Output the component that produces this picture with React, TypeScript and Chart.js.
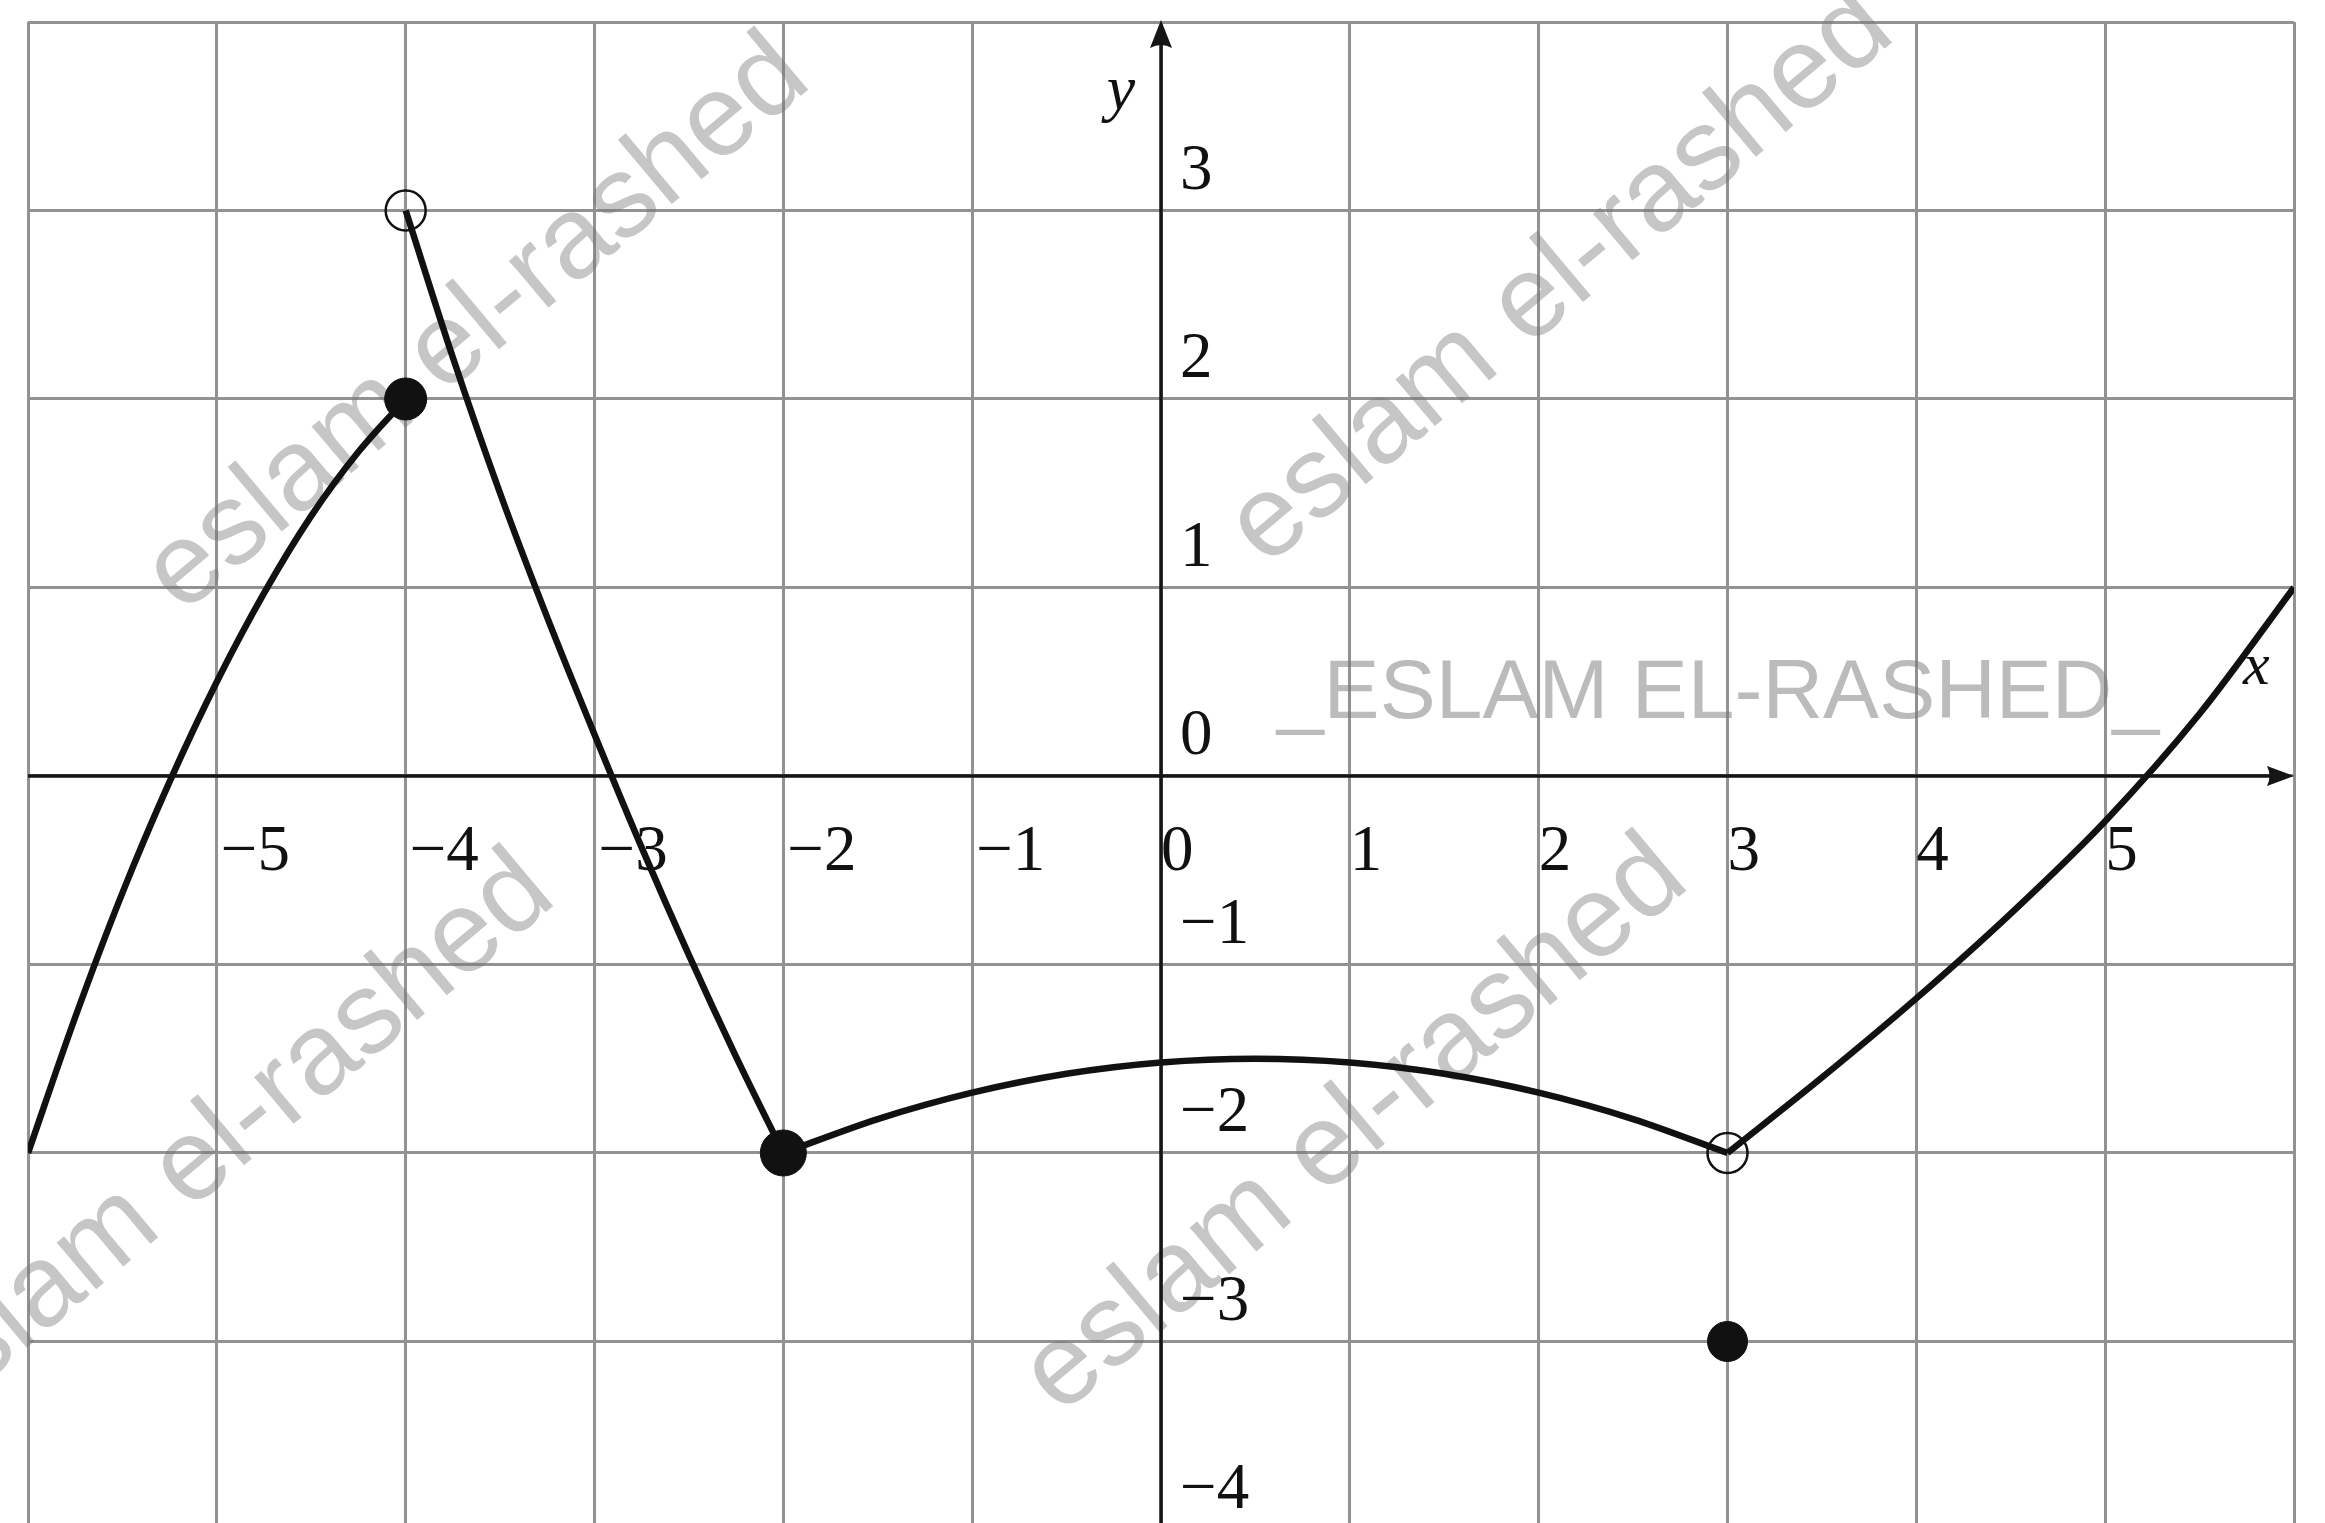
import React, { useEffect, useRef } from 'react';
import { Chart, registerables } from 'chart.js';

Chart.register(...registerables);

// Piecewise function: each branch is listed as sampled (x, y) readings.
const branchAx = [-6, -5.75, -5.5, -5.25, -5, -4.75, -4.5, -4.25, -4];
const branchAy = [-2, -1.28, -0.62, -0.03, 0.5, 0.97, 1.38, 1.72, 2];

const branchBx = [-4, -3.75, -3.5, -3.25, -3, -2.75, -2.5, -2.25, -2];
const branchBy = [3, 2.22, 1.5, 0.84, 0.22, -0.38, -0.95, -1.49, -2];

const branchCx = [-2, -1.5, -1, -0.5, 0, 0.5, 1, 1.5, 2, 2.5, 3];
const branchCy = [-2, -1.82, -1.68, -1.58, -1.52, -1.5, -1.52, -1.58, -1.68, -1.82, -2];

const branchDx = [3, 3.5, 4, 4.5, 5, 5.5, 6];
const branchDy = [-2, -1.6, -1.18, -0.73, -0.24, 0.33, 1];

// Included endpoints (filled dots) and excluded endpoints (open circles)
const closedX = [-4, -2, 3];
const closedY = [2, -2, -3];
const openX = [-4, 3];
const openY = [3, -2];

// Axis tick labels and grid positions
const xTickValues = [-5, -4, -3, -2, -1, 0, 1, 2, 3, 4, 5];
const yTickValues = [-4, -3, -2, -1, 0, 1, 2, 3];
const gridX = [-6, -5, -4, -3, -2, -1, 0, 1, 2, 3, 4, 5, 6];
const gridY = [-3, -2, -1, 0, 1, 2, 3, 4];

const W = 2325;
const H = 1523;

const fmt = (v: number) => (v < 0 ? '\u2212' + Math.abs(v) : String(v));
const pts = (xs: number[], ys: number[]) => xs.map((x, i) => ({ x, y: ys[i] }));

// Watermark stamps, positioned in axis units
const stamps = [
  { text: 'eslam el-rashed', x: -3.62, y: 2.39, angle: -40 },
  { text: 'eslam el-rashed', x: 2.12, y: 2.64, angle: -40 },
  { text: 'eslam el-rashed', x: -4.97, y: -1.94, angle: -40 },
  { text: 'eslam el-rashed', x: 1.03, y: -1.86, angle: -40 },
];

const decor = {
  id: 'decor',
  beforeDraw(chart: any) {
    const { ctx } = chart;
    ctx.save();
    ctx.fillStyle = '#ffffff';
    ctx.fillRect(0, 0, chart.width, chart.height);
    ctx.restore();
  },
  beforeDatasetsDraw(chart: any) {
    const { ctx } = chart;
    const xs = chart.scales.x;
    const ys = chart.scales.y;
    const ox = xs.getPixelForValue(0);
    const oy = ys.getPixelForValue(0);

    // watermarks
    ctx.save();
    ctx.fillStyle = 'rgba(120,120,120,0.42)';
    ctx.font = '116px "Liberation Sans", Arial, sans-serif';
    ctx.textAlign = 'center';
    ctx.textBaseline = 'middle';
    for (const s of stamps) {
      ctx.save();
      ctx.translate(xs.getPixelForValue(s.x), ys.getPixelForValue(s.y));
      ctx.rotate((s.angle * Math.PI) / 180);
      ctx.fillText(s.text, 0, 0);
      ctx.restore();
    }
    ctx.font = '84px "Liberation Sans", Arial, sans-serif';
    ctx.fillStyle = 'rgba(120,120,120,0.5)';
    ctx.fillText('_ESLAM EL-RASHED_', xs.getPixelForValue(2.95), ys.getPixelForValue(0.43));
    ctx.restore();

    // axes with arrowheads
    ctx.save();
    ctx.strokeStyle = '#151515';
    ctx.fillStyle = '#151515';
    ctx.lineWidth = 3.5;
    const xEnd = xs.getPixelForValue(6);
    const yTop = ys.getPixelForValue(4);
    ctx.beginPath();
    ctx.moveTo(xs.getPixelForValue(-6), oy);
    ctx.lineTo(xEnd - 10, oy);
    ctx.moveTo(ox, chart.height);
    ctx.lineTo(ox, yTop + 10);
    ctx.stroke();
    ctx.beginPath();
    ctx.moveTo(xEnd, oy);
    ctx.lineTo(xEnd - 27, oy - 10);
    ctx.quadraticCurveTo(xEnd - 22, oy, xEnd - 27, oy + 10);
    ctx.closePath();
    ctx.fill();
    ctx.beginPath();
    ctx.moveTo(ox, yTop - 2);
    ctx.lineTo(ox - 11, yTop + 26);
    ctx.quadraticCurveTo(ox, yTop + 20, ox + 11, yTop + 26);
    ctx.closePath();
    ctx.fill();
    ctx.restore();

    // tick labels
    ctx.save();
    ctx.fillStyle = '#111';
    ctx.font = '65px "Liberation Serif", "Times New Roman", serif';
    ctx.textBaseline = 'middle';
    ctx.textAlign = 'left';
    for (const v of xTickValues) {
      const px = xs.getPixelForValue(v);
      ctx.fillText(fmt(v), px + (v < 0 ? 4 : 0), oy + 77);
    }
    for (const v of yTickValues) {
      const py = ys.getPixelForValue(v);
      ctx.fillText(fmt(v), ox + 19, py - 39);
    }
    // axis names
    ctx.font = 'italic 60px "Liberation Serif", "Times New Roman", serif';
    ctx.textAlign = 'center';
    ctx.fillText('x', xs.getPixelForValue(5.8), ys.getPixelForValue(0.57));
    ctx.font = 'italic 64px "Liberation Serif", "Times New Roman", serif';
    ctx.fillText('y', ox - 40, ys.getPixelForValue(3.63));
    ctx.restore();
  },
};

export default function App() {
  const ref = useRef<HTMLCanvasElement>(null);

  useEffect(() => {
    const canvas = ref.current;
    if (!canvas) return;
    const curve = (xs: number[], ys: number[]) => ({
      data: pts(xs, ys),
      showLine: true,
      borderColor: '#111',
      borderWidth: 6.5,
      pointRadius: 0,
      cubicInterpolationMode: 'monotone' as const,
      fill: false,
      order: 2,
    });
    const chart = new Chart(canvas, {
      type: 'line',
      data: {
        datasets: [
          {
            data: pts(closedX, closedY),
            showLine: false,
            pointRadius: [21, 23, 20],
            pointBackgroundColor: '#111',
            pointBorderColor: '#111',
            pointBorderWidth: 1,
            order: 0,
          } as any,
          {
            data: pts(openX, openY),
            showLine: false,
            pointRadius: 20,
            pointBackgroundColor: 'rgba(0,0,0,0)',
            pointBorderColor: '#111',
            pointBorderWidth: 2.5,
            order: 1,
          } as any,
          curve(branchAx, branchAy),
          curve(branchBx, branchBy),
          curve(branchCx, branchCy),
          curve(branchDx, branchDy),
        ],
      },
      options: {
        responsive: false,
        devicePixelRatio: 1,
        animation: false,
        events: [],
        layout: { padding: { left: 28, top: 22, right: 31, bottom: 0 }, autoPadding: false },
        plugins: { legend: { display: false }, tooltip: { enabled: false } },
        scales: {
          x: {
            type: 'linear',
            min: -6,
            max: 6,
            afterBuildTicks: (s: any) => {
              s.ticks = gridX.map((value) => ({ value }));
            },
            ticks: { display: false },
            grid: { color: '#929292', lineWidth: 3, drawTicks: false },
            border: { display: false },
          },
          y: {
            type: 'linear',
            min: -3.963,
            max: 4,
            afterBuildTicks: (s: any) => {
              s.ticks = gridY.map((value) => ({ value }));
            },
            ticks: { display: false },
            grid: { color: '#929292', lineWidth: 3, drawTicks: false },
            border: { display: false },
          },
        },
      },
      plugins: [decor],
    });
    return () => chart.destroy();
  }, []);

  return (
    <div style={{ position: 'fixed', left: 0, top: 0, width: W, height: H, background: '#fff' }}>
      <canvas ref={ref} width={W} height={H} style={{ width: W, height: H, display: 'block' }} />
    </div>
  );
}
